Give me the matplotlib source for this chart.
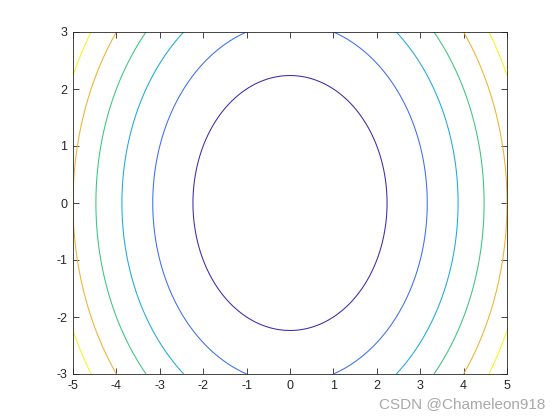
import numpy as np
import matplotlib
matplotlib.use("Agg")
import matplotlib.pyplot as plt

plt.rcParams['font.family'] = ['Liberation Sans', 'DejaVu Sans']
plt.rcParams['axes.unicode_minus'] = False

# grid and surface z = x^2 + y^2
x = np.linspace(-5, 5, 401)
y = np.linspace(-3, 3, 241)
levels = [5, 10, 15, 20, 25, 30]
level_colors = ['#3b2bab', '#3c6df4', '#1ca9df', '#3bc47e', '#eeb22f', '#f8f51b']
xticks = [-5, -4, -3, -2, -1, 0, 1, 2, 3, 4, 5]
yticks = [-3, -2, -1, 0, 1, 2, 3]

X, Y = np.meshgrid(x, y)
Z = X**2 + Y**2

fig = plt.figure(figsize=(5.6, 4.2), dpi=100)
ax = fig.add_axes([73/560, 46/420, 434/560, 342/420])
ax.contour(X, Y, Z, levels=levels, colors=level_colors, linewidths=0.75)

ax.set_xlim(-5, 5)
ax.set_ylim(-3, 3)
ax.set_xticks(xticks)
ax.set_yticks(yticks)
ax.tick_params(direction='in', top=True, right=True, labelsize=9, length=4, width=0.6, pad=4, colors='#262626')
for s in ax.spines.values():
    s.set_linewidth(0.6)
    s.set_color('#262626')

fig.text(545/560, 1 - 408/420, 'CSDN @Chameleon918', ha='right', va='baseline', fontsize=11, color='#a8a8a8')

fig.savefig('out.png', dpi=100)
